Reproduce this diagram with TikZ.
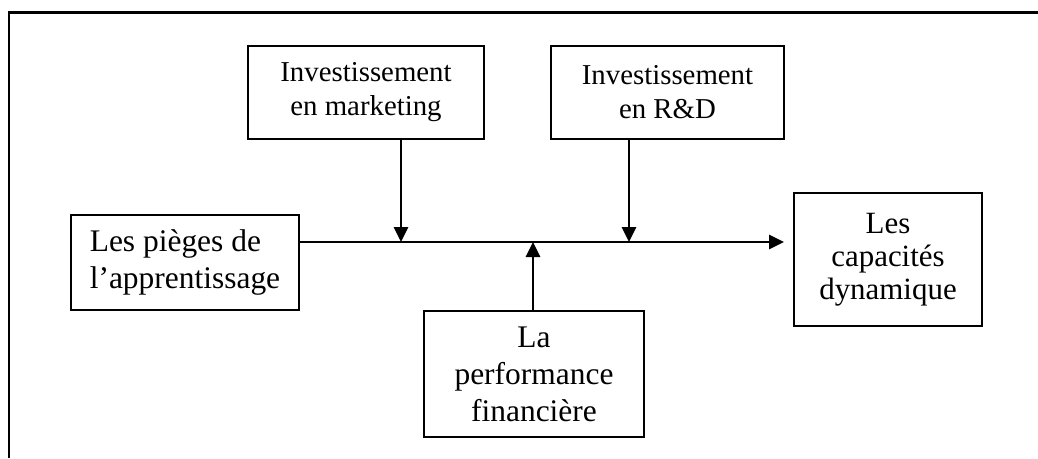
\documentclass[tikz,border=0pt]{standalone}
\usepackage{fontspec}
\setmainfont{Liberation Serif}
\usetikzlibrary{arrows.meta}

\begin{document}
\begin{tikzpicture}[x=0.02cm, y=-0.02cm,
  box/.style={draw, line width=1.1pt, align=center, inner sep=0pt},
  flow/.style={line width=1.6pt, -{Triangle[length=0.3cm, width=0.28cm]}},
  topfont/.style={font=\fontsize{16.4}{19.3}\selectfont},
  bigfont/.style={font=\fontsize{17.9}{21}\selectfont}]

\useasboundingbox (0,0) rectangle (1038,458);

% ==== Frame ====
\draw[line width=1.7pt] (9,458) -- (9,12) -- (1038,12);

% ==== Boxes ====
\node[box, topfont, minimum width=4.72cm, minimum height=1.86cm] (marketing) at (366,92.5)
  {Investissement\\en marketing};
\node[box, topfont, minimum width=4.66cm, minimum height=1.86cm] (rd) at (667.5,92.5)
  {Investissement\\en R\&D};
\node[box, bigfont, align=left, minimum width=4.56cm, minimum height=1.9cm] (pieges) at (185,262.5)
  {Les pièges de\\l’apprentissage};
\node[box, bigfont, minimum width=4.4cm, minimum height=2.52cm] (perf) at (534,374)
  {La\\performance\\financière};
\node[box, font=\fontsize{17.6}{18.7}\selectfont, minimum width=3.76cm, minimum height=2.66cm] (capacites) at (888,259.5)
  {Les\\capacités\\dynamique};

% ==== Main line ====
\coordinate (axis) at (0,242);
\draw[flow, shorten >=0.18cm] (pieges.east |- axis) -- (capacites.west |- axis);

% Arrows onto the line
\coordinate (mk) at (401,242);
\coordinate (rdx) at (629,242);
\coordinate (pf) at (533,242);
\draw[flow] (marketing.south -| mk) -- (mk);
\draw[flow] (rd.south -| rdx) -- (rdx);
\draw[flow] (perf.north -| pf) -- (pf);

\end{tikzpicture}
\end{document}
